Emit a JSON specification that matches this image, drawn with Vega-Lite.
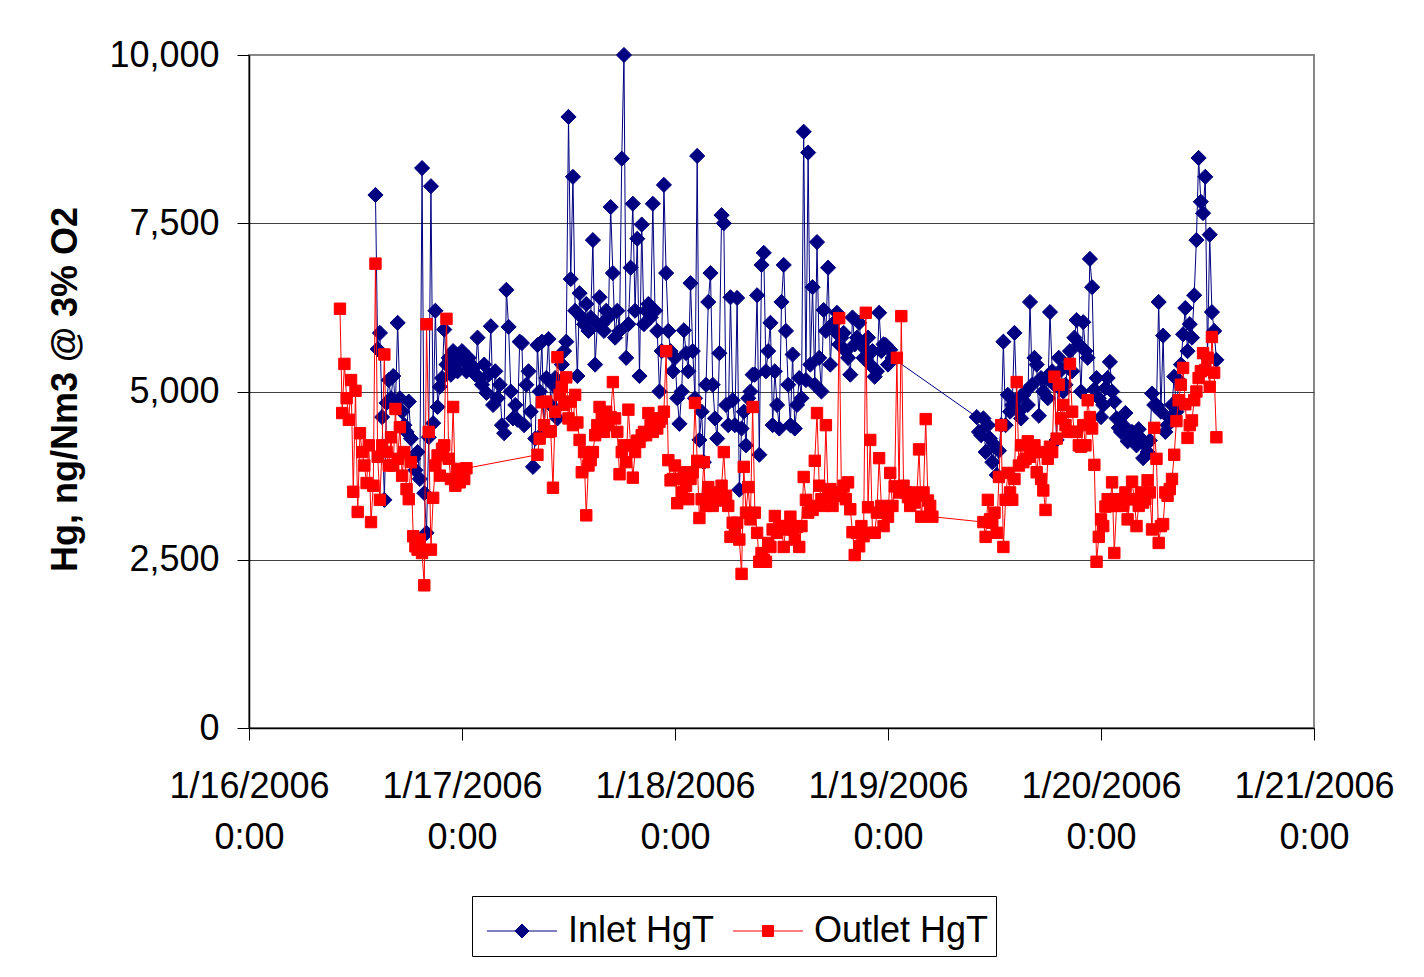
{
"$schema":"https://vega.github.io/schema/vega-lite/v6.json",
"width":1065,"height":673,
"autosize":{"type":"none"},
"padding":{"left":249,"top":55,"right":110,"bottom":249},
"background":"white",
"config":{"view":{"stroke":"#888888","strokeWidth":2,"fill":"white"},"font":"Liberation Sans"},
"data":{"values":[
{"t":"2006-01-16T10:15","Outlet HgT":6230},
{"t":"2006-01-16T10:30","Outlet HgT":4680},
{"t":"2006-01-16T10:45","Outlet HgT":5410},
{"t":"2006-01-16T11:00","Outlet HgT":4900},
{"t":"2006-01-16T11:15","Outlet HgT":4580},
{"t":"2006-01-16T11:30","Outlet HgT":5170},
{"t":"2006-01-16T11:45","Outlet HgT":3510},
{"t":"2006-01-16T12:00","Outlet HgT":5010},
{"t":"2006-01-16T12:15","Outlet HgT":3210},
{"t":"2006-01-16T12:30","Outlet HgT":4380},
{"t":"2006-01-16T12:45","Outlet HgT":4100},
{"t":"2006-01-16T13:00","Outlet HgT":3900},
{"t":"2006-01-16T13:15","Outlet HgT":3640},
{"t":"2006-01-16T13:30","Outlet HgT":4200},
{"t":"2006-01-16T13:45","Outlet HgT":3060},
{"t":"2006-01-16T14:00","Outlet HgT":3600},
{"t":"2006-01-16T14:15","Inlet HgT":7920,"Outlet HgT":6900},
{"t":"2006-01-16T14:30","Inlet HgT":5630,"Outlet HgT":4030},
{"t":"2006-01-16T14:45","Inlet HgT":5870,"Outlet HgT":3390},
{"t":"2006-01-16T15:00","Inlet HgT":4620,"Outlet HgT":4200},
{"t":"2006-01-16T15:15","Inlet HgT":3390,"Outlet HgT":5550},
{"t":"2006-01-16T15:30","Inlet HgT":4830,"Outlet HgT":4100},
{"t":"2006-01-16T15:45","Inlet HgT":5170,"Outlet HgT":3900},
{"t":"2006-01-16T16:00","Inlet HgT":4900,"Outlet HgT":4320},
{"t":"2006-01-16T16:15","Inlet HgT":5230,"Outlet HgT":3900},
{"t":"2006-01-16T16:30","Inlet HgT":4800,"Outlet HgT":4740},
{"t":"2006-01-16T16:45","Inlet HgT":6020,"Outlet HgT":4000},
{"t":"2006-01-16T17:00","Inlet HgT":4900,"Outlet HgT":4470},
{"t":"2006-01-16T17:15","Inlet HgT":4700,"Outlet HgT":3750},
{"t":"2006-01-16T17:30","Inlet HgT":4500,"Outlet HgT":4100},
{"t":"2006-01-16T17:45","Inlet HgT":4400,"Outlet HgT":3550},
{"t":"2006-01-16T18:00","Inlet HgT":4850,"Outlet HgT":3400},
{"t":"2006-01-16T18:15","Inlet HgT":4300,"Outlet HgT":3950},
{"t":"2006-01-16T18:30","Inlet HgT":4000,"Outlet HgT":2850},
{"t":"2006-01-16T18:45","Inlet HgT":3830,"Outlet HgT":2700},
{"t":"2006-01-16T19:00","Inlet HgT":4100,"Outlet HgT":2650},
{"t":"2006-01-16T19:15","Inlet HgT":3700,"Outlet HgT":2800},
{"t":"2006-01-16T19:30","Inlet HgT":8320,"Outlet HgT":2600},
{"t":"2006-01-16T19:45","Inlet HgT":3490,"Outlet HgT":2120},
{"t":"2006-01-16T20:00","Inlet HgT":2900,"Outlet HgT":6000},
{"t":"2006-01-16T20:15","Inlet HgT":4320,"Outlet HgT":4400},
{"t":"2006-01-16T20:30","Inlet HgT":8050,"Outlet HgT":2650},
{"t":"2006-01-16T20:45","Inlet HgT":4530,"Outlet HgT":3420},
{"t":"2006-01-16T21:00","Inlet HgT":6200,"Outlet HgT":3900},
{"t":"2006-01-16T21:15","Inlet HgT":4770,"Outlet HgT":4050},
{"t":"2006-01-16T21:30","Inlet HgT":5070,"Outlet HgT":3750},
{"t":"2006-01-16T21:45","Inlet HgT":5200,"Outlet HgT":4150},
{"t":"2006-01-16T22:00","Inlet HgT":5920,"Outlet HgT":4200},
{"t":"2006-01-16T22:15","Inlet HgT":5400,"Outlet HgT":6080},
{"t":"2006-01-16T22:30","Inlet HgT":5500,"Outlet HgT":4000},
{"t":"2006-01-16T22:45","Inlet HgT":5250,"Outlet HgT":3700},
{"t":"2006-01-16T23:00","Inlet HgT":5600,"Outlet HgT":4770},
{"t":"2006-01-16T23:15","Inlet HgT":5400,"Outlet HgT":3600},
{"t":"2006-01-16T23:30","Inlet HgT":5300,"Outlet HgT":3850},
{"t":"2006-01-16T23:45","Inlet HgT":5500,"Outlet HgT":3650},
{"t":"2006-01-17T00:00","Inlet HgT":5600,"Outlet HgT":3800},
{"t":"2006-01-17T00:15","Inlet HgT":5450,"Outlet HgT":3700},
{"t":"2006-01-17T00:30","Inlet HgT":5300,"Outlet HgT":3860},
{"t":"2006-01-17T00:45","Inlet HgT":5500},
{"t":"2006-01-17T01:00","Inlet HgT":5400},
{"t":"2006-01-17T01:15","Inlet HgT":5350},
{"t":"2006-01-17T01:30","Inlet HgT":5250},
{"t":"2006-01-17T01:45","Inlet HgT":5800},
{"t":"2006-01-17T02:00","Inlet HgT":5200},
{"t":"2006-01-17T02:15","Inlet HgT":5100},
{"t":"2006-01-17T02:30","Inlet HgT":5400},
{"t":"2006-01-17T02:45","Inlet HgT":4980},
{"t":"2006-01-17T03:00","Inlet HgT":5250},
{"t":"2006-01-17T03:15","Inlet HgT":5970},
{"t":"2006-01-17T03:30","Inlet HgT":4800},
{"t":"2006-01-17T03:45","Inlet HgT":5300},
{"t":"2006-01-17T04:00","Inlet HgT":4900},
{"t":"2006-01-17T04:15","Inlet HgT":5100},
{"t":"2006-01-17T04:30","Inlet HgT":4500},
{"t":"2006-01-17T04:45","Inlet HgT":4380},
{"t":"2006-01-17T05:00","Inlet HgT":6510},
{"t":"2006-01-17T05:15","Inlet HgT":5960},
{"t":"2006-01-17T05:30","Inlet HgT":5000},
{"t":"2006-01-17T05:45","Inlet HgT":4600},
{"t":"2006-01-17T06:00","Inlet HgT":4800},
{"t":"2006-01-17T06:15","Inlet HgT":4580},
{"t":"2006-01-17T06:30","Inlet HgT":5740},
{"t":"2006-01-17T06:45","Inlet HgT":5720},
{"t":"2006-01-17T07:00","Inlet HgT":4500},
{"t":"2006-01-17T07:15","Inlet HgT":5100},
{"t":"2006-01-17T07:30","Inlet HgT":5300},
{"t":"2006-01-17T07:45","Inlet HgT":4700},
{"t":"2006-01-17T08:00","Inlet HgT":3880},
{"t":"2006-01-17T08:15","Inlet HgT":4300},
{"t":"2006-01-17T08:30","Inlet HgT":5690,"Outlet HgT":4060},
{"t":"2006-01-17T08:45","Inlet HgT":5000,"Outlet HgT":4300},
{"t":"2006-01-17T09:00","Inlet HgT":5740,"Outlet HgT":4840},
{"t":"2006-01-17T09:15","Inlet HgT":4400,"Outlet HgT":4500},
{"t":"2006-01-17T09:30","Inlet HgT":5200,"Outlet HgT":4850},
{"t":"2006-01-17T09:45","Inlet HgT":5780,"Outlet HgT":4400},
{"t":"2006-01-17T10:00","Inlet HgT":4800,"Outlet HgT":4410},
{"t":"2006-01-17T10:15","Inlet HgT":5100,"Outlet HgT":3570},
{"t":"2006-01-17T10:30","Inlet HgT":5200,"Outlet HgT":4700},
{"t":"2006-01-17T10:45","Inlet HgT":4600,"Outlet HgT":5510},
{"t":"2006-01-17T11:00","Inlet HgT":5000,"Outlet HgT":4950},
{"t":"2006-01-17T11:15","Inlet HgT":5400,"Outlet HgT":5070},
{"t":"2006-01-17T11:30","Inlet HgT":5600,"Outlet HgT":4800},
{"t":"2006-01-17T11:45","Inlet HgT":5740,"Outlet HgT":5210},
{"t":"2006-01-17T12:00","Inlet HgT":9080,"Outlet HgT":4600},
{"t":"2006-01-17T12:15","Inlet HgT":6670,"Outlet HgT":4850},
{"t":"2006-01-17T12:30","Inlet HgT":8190,"Outlet HgT":4500},
{"t":"2006-01-17T12:45","Inlet HgT":6200,"Outlet HgT":4950},
{"t":"2006-01-17T13:00","Inlet HgT":5230,"Outlet HgT":4540},
{"t":"2006-01-17T13:15","Inlet HgT":6460,"Outlet HgT":4280},
{"t":"2006-01-17T13:30","Inlet HgT":6100,"Outlet HgT":3800},
{"t":"2006-01-17T13:45","Inlet HgT":6000,"Outlet HgT":4100},
{"t":"2006-01-17T14:00","Inlet HgT":6300,"Outlet HgT":3160},
{"t":"2006-01-17T14:15","Inlet HgT":5900,"Outlet HgT":3900},
{"t":"2006-01-17T14:30","Inlet HgT":6100,"Outlet HgT":3980},
{"t":"2006-01-17T14:45","Inlet HgT":7250,"Outlet HgT":4100},
{"t":"2006-01-17T15:00","Inlet HgT":5400,"Outlet HgT":4350},
{"t":"2006-01-17T15:15","Inlet HgT":6000,"Outlet HgT":4500},
{"t":"2006-01-17T15:30","Inlet HgT":6400,"Outlet HgT":4770},
{"t":"2006-01-17T15:45","Inlet HgT":6000,"Outlet HgT":4600},
{"t":"2006-01-17T16:00","Inlet HgT":5900,"Outlet HgT":4400},
{"t":"2006-01-17T16:15","Inlet HgT":6200,"Outlet HgT":4700},
{"t":"2006-01-17T16:30","Inlet HgT":6100,"Outlet HgT":4500},
{"t":"2006-01-17T16:45","Inlet HgT":7740,"Outlet HgT":4620},
{"t":"2006-01-17T17:00","Inlet HgT":6760,"Outlet HgT":5140},
{"t":"2006-01-17T17:15","Inlet HgT":5800,"Outlet HgT":4600},
{"t":"2006-01-17T17:30","Inlet HgT":6200,"Outlet HgT":4400},
{"t":"2006-01-17T17:45","Inlet HgT":5900,"Outlet HgT":3770},
{"t":"2006-01-17T18:00","Inlet HgT":8460,"Outlet HgT":4100},
{"t":"2006-01-17T18:15","Inlet HgT":10000,"Outlet HgT":4200},
{"t":"2006-01-17T18:30","Inlet HgT":5500,"Outlet HgT":3950},
{"t":"2006-01-17T18:45","Inlet HgT":6000,"Outlet HgT":4730},
{"t":"2006-01-17T19:00","Inlet HgT":6840,"Outlet HgT":4200},
{"t":"2006-01-17T19:15","Inlet HgT":7790,"Outlet HgT":3720},
{"t":"2006-01-17T19:30","Inlet HgT":6200,"Outlet HgT":4100},
{"t":"2006-01-17T19:45","Inlet HgT":7270,"Outlet HgT":4270},
{"t":"2006-01-17T20:00","Inlet HgT":5230,"Outlet HgT":4250},
{"t":"2006-01-17T20:15","Inlet HgT":7480,"Outlet HgT":4350},
{"t":"2006-01-17T20:30","Inlet HgT":6000,"Outlet HgT":4400},
{"t":"2006-01-17T20:45","Inlet HgT":6200,"Outlet HgT":4350},
{"t":"2006-01-17T21:00","Inlet HgT":6300,"Outlet HgT":4680},
{"t":"2006-01-17T21:15","Inlet HgT":6100,"Outlet HgT":4500},
{"t":"2006-01-17T21:30","Inlet HgT":7790,"Outlet HgT":4400},
{"t":"2006-01-17T21:45","Inlet HgT":6200,"Outlet HgT":4600},
{"t":"2006-01-17T22:00","Inlet HgT":5900,"Outlet HgT":4450},
{"t":"2006-01-17T22:15","Inlet HgT":5000,"Outlet HgT":4550},
{"t":"2006-01-17T22:30","Inlet HgT":5600,"Outlet HgT":4600},
{"t":"2006-01-17T22:45","Inlet HgT":8070,"Outlet HgT":4700},
{"t":"2006-01-17T23:00","Inlet HgT":6760,"Outlet HgT":5600},
{"t":"2006-01-17T23:15","Inlet HgT":5900,"Outlet HgT":3980},
{"t":"2006-01-17T23:30","Inlet HgT":5600,"Outlet HgT":3680},
{"t":"2006-01-17T23:45","Inlet HgT":5300,"Outlet HgT":3700},
{"t":"2006-01-18T00:00","Inlet HgT":5500,"Outlet HgT":3900},
{"t":"2006-01-18T00:15","Inlet HgT":4900,"Outlet HgT":3340},
{"t":"2006-01-18T00:30","Inlet HgT":4520,"Outlet HgT":3700},
{"t":"2006-01-18T00:45","Inlet HgT":5000,"Outlet HgT":3500},
{"t":"2006-01-18T01:00","Inlet HgT":5910,"Outlet HgT":3800},
{"t":"2006-01-18T01:15","Inlet HgT":5570,"Outlet HgT":3600},
{"t":"2006-01-18T01:30","Inlet HgT":5300,"Outlet HgT":3400},
{"t":"2006-01-18T01:45","Inlet HgT":6610,"Outlet HgT":3700},
{"t":"2006-01-18T02:00","Inlet HgT":5600,"Outlet HgT":3800},
{"t":"2006-01-18T02:15","Inlet HgT":4900,"Outlet HgT":4830},
{"t":"2006-01-18T02:30","Inlet HgT":8500,"Outlet HgT":3970},
{"t":"2006-01-18T02:45","Inlet HgT":4280,"Outlet HgT":3120},
{"t":"2006-01-18T03:00","Inlet HgT":4700,"Outlet HgT":3400},
{"t":"2006-01-18T03:15","Inlet HgT":3950,"Outlet HgT":3950},
{"t":"2006-01-18T03:30","Inlet HgT":5100,"Outlet HgT":3300},
{"t":"2006-01-18T03:45","Inlet HgT":6330,"Outlet HgT":3580},
{"t":"2006-01-18T04:00","Inlet HgT":6760,"Outlet HgT":3400},
{"t":"2006-01-18T04:15","Inlet HgT":5100,"Outlet HgT":3300},
{"t":"2006-01-18T04:30","Inlet HgT":4600,"Outlet HgT":3500},
{"t":"2006-01-18T04:45","Inlet HgT":4300,"Outlet HgT":3380},
{"t":"2006-01-18T05:00","Inlet HgT":5570,"Outlet HgT":3450},
{"t":"2006-01-18T05:15","Inlet HgT":7620,"Outlet HgT":3600},
{"t":"2006-01-18T05:30","Inlet HgT":7500,"Outlet HgT":4100},
{"t":"2006-01-18T05:45","Inlet HgT":4800,"Outlet HgT":3450},
{"t":"2006-01-18T06:00","Inlet HgT":4500,"Outlet HgT":3300},
{"t":"2006-01-18T06:15","Inlet HgT":6400,"Outlet HgT":2840},
{"t":"2006-01-18T06:30","Inlet HgT":4870,"Outlet HgT":3050},
{"t":"2006-01-18T06:45","Inlet HgT":4500,"Outlet HgT":2900},
{"t":"2006-01-18T07:00","Inlet HgT":6390,"Outlet HgT":3050},
{"t":"2006-01-18T07:15","Inlet HgT":3540,"Outlet HgT":2800},
{"t":"2006-01-18T07:30","Inlet HgT":4450,"Outlet HgT":2290},
{"t":"2006-01-18T07:45","Inlet HgT":4700,"Outlet HgT":3880},
{"t":"2006-01-18T08:00","Inlet HgT":4200,"Outlet HgT":3200},
{"t":"2006-01-18T08:15","Inlet HgT":4900,"Outlet HgT":3580},
{"t":"2006-01-18T08:30","Inlet HgT":5000,"Outlet HgT":3100},
{"t":"2006-01-18T08:45","Inlet HgT":5250,"Outlet HgT":4770},
{"t":"2006-01-18T09:00","Inlet HgT":5250,"Outlet HgT":3200},
{"t":"2006-01-18T09:15","Inlet HgT":6430,"Outlet HgT":2900},
{"t":"2006-01-18T09:30","Inlet HgT":4060,"Outlet HgT":2470},
{"t":"2006-01-18T09:45","Inlet HgT":6880,"Outlet HgT":2600},
{"t":"2006-01-18T10:00","Inlet HgT":7060,"Outlet HgT":2500},
{"t":"2006-01-18T10:15","Inlet HgT":5300,"Outlet HgT":2470},
{"t":"2006-01-18T10:30","Inlet HgT":5600,"Outlet HgT":2750},
{"t":"2006-01-18T10:45","Inlet HgT":6020,"Outlet HgT":2690},
{"t":"2006-01-18T11:00","Inlet HgT":4500,"Outlet HgT":2950},
{"t":"2006-01-18T11:15","Inlet HgT":5300,"Outlet HgT":3150},
{"t":"2006-01-18T11:30","Inlet HgT":4800,"Outlet HgT":2900},
{"t":"2006-01-18T11:45","Inlet HgT":4450,"Outlet HgT":3000},
{"t":"2006-01-18T12:00","Inlet HgT":6330,"Outlet HgT":2990},
{"t":"2006-01-18T12:15","Inlet HgT":6880,"Outlet HgT":2690},
{"t":"2006-01-18T12:30","Inlet HgT":5900,"Outlet HgT":3000},
{"t":"2006-01-18T12:45","Inlet HgT":5100,"Outlet HgT":2950},
{"t":"2006-01-18T13:00","Inlet HgT":4500,"Outlet HgT":3140},
{"t":"2006-01-18T13:15","Inlet HgT":5550,"Outlet HgT":2950},
{"t":"2006-01-18T13:30","Inlet HgT":4450,"Outlet HgT":2800},
{"t":"2006-01-18T13:45","Inlet HgT":4800,"Outlet HgT":2990},
{"t":"2006-01-18T14:00","Inlet HgT":5200,"Outlet HgT":2690},
{"t":"2006-01-18T14:15","Inlet HgT":4900,"Outlet HgT":3000},
{"t":"2006-01-18T14:30","Inlet HgT":8860,"Outlet HgT":3730},
{"t":"2006-01-18T14:45","Inlet HgT":5170,"Outlet HgT":3390},
{"t":"2006-01-18T15:00","Inlet HgT":8550,"Outlet HgT":3200},
{"t":"2006-01-18T15:15","Inlet HgT":5400,"Outlet HgT":3300},
{"t":"2006-01-18T15:30","Inlet HgT":6550,"Outlet HgT":3240},
{"t":"2006-01-18T15:45","Inlet HgT":5100,"Outlet HgT":3970},
{"t":"2006-01-18T16:00","Inlet HgT":7220,"Outlet HgT":4680},
{"t":"2006-01-18T16:15","Inlet HgT":5500,"Outlet HgT":3600},
{"t":"2006-01-18T16:30","Inlet HgT":5000,"Outlet HgT":3400},
{"t":"2006-01-18T16:45","Inlet HgT":6210,"Outlet HgT":3300},
{"t":"2006-01-18T17:00","Inlet HgT":5900,"Outlet HgT":4500},
{"t":"2006-01-18T17:15","Inlet HgT":6840,"Outlet HgT":3450},
{"t":"2006-01-18T17:30","Inlet HgT":5400,"Outlet HgT":3550},
{"t":"2006-01-18T17:45","Inlet HgT":6000,"Outlet HgT":3300},
{"t":"2006-01-18T18:00","Inlet HgT":5900,"Outlet HgT":3500},
{"t":"2006-01-18T18:15","Inlet HgT":6170,"Outlet HgT":3450},
{"t":"2006-01-18T18:30","Inlet HgT":5700,"Outlet HgT":6090},
{"t":"2006-01-18T18:45","Inlet HgT":5800,"Outlet HgT":3500},
{"t":"2006-01-18T19:00","Inlet HgT":5870,"Outlet HgT":3600},
{"t":"2006-01-18T19:15","Inlet HgT":5600,"Outlet HgT":3400},
{"t":"2006-01-18T19:30","Inlet HgT":5500,"Outlet HgT":3650},
{"t":"2006-01-18T19:45","Inlet HgT":5250,"Outlet HgT":3250},
{"t":"2006-01-18T20:00","Inlet HgT":6100,"Outlet HgT":2910},
{"t":"2006-01-18T20:15","Inlet HgT":5700,"Outlet HgT":2570},
{"t":"2006-01-18T20:30","Inlet HgT":5800,"Outlet HgT":2900},
{"t":"2006-01-18T20:45","Inlet HgT":6020,"Outlet HgT":2700},
{"t":"2006-01-18T21:00","Inlet HgT":5700,"Outlet HgT":3000},
{"t":"2006-01-18T21:15","Inlet HgT":5500,"Outlet HgT":2850},
{"t":"2006-01-18T21:30","Inlet HgT":5620,"Outlet HgT":6170},
{"t":"2006-01-18T21:45","Inlet HgT":5800,"Outlet HgT":3280},
{"t":"2006-01-18T22:00","Inlet HgT":5400,"Outlet HgT":4280},
{"t":"2006-01-18T22:15","Inlet HgT":5600,"Outlet HgT":2900},
{"t":"2006-01-18T22:30","Inlet HgT":5220,"Outlet HgT":2900},
{"t":"2006-01-18T22:45","Inlet HgT":5300,"Outlet HgT":3200},
{"t":"2006-01-18T23:00","Inlet HgT":6170,"Outlet HgT":4010},
{"t":"2006-01-18T23:15","Inlet HgT":5600,"Outlet HgT":3300},
{"t":"2006-01-18T23:30","Inlet HgT":5700,"Outlet HgT":3000},
{"t":"2006-01-18T23:45","Inlet HgT":5690,"Outlet HgT":3200},
{"t":"2006-01-19T00:00","Inlet HgT":5400,"Outlet HgT":3140},
{"t":"2006-01-19T00:15","Inlet HgT":5620,"Outlet HgT":3790},
{"t":"2006-01-19T00:30","Inlet HgT":5500,"Outlet HgT":3300},
{"t":"2006-01-19T00:45","Outlet HgT":3590},
{"t":"2006-01-19T01:00","Outlet HgT":5500},
{"t":"2006-01-19T01:15","Outlet HgT":3500},
{"t":"2006-01-19T01:30","Outlet HgT":6120},
{"t":"2006-01-19T01:45","Outlet HgT":3600},
{"t":"2006-01-19T02:00","Outlet HgT":3500},
{"t":"2006-01-19T02:15","Outlet HgT":3430},
{"t":"2006-01-19T02:30","Outlet HgT":3300},
{"t":"2006-01-19T02:45","Outlet HgT":3500},
{"t":"2006-01-19T03:00","Outlet HgT":3350},
{"t":"2006-01-19T03:15","Outlet HgT":3450},
{"t":"2006-01-19T03:30","Outlet HgT":4140},
{"t":"2006-01-19T03:45","Outlet HgT":3140},
{"t":"2006-01-19T04:00","Outlet HgT":3500},
{"t":"2006-01-19T04:15","Outlet HgT":4590},
{"t":"2006-01-19T04:30","Outlet HgT":3380},
{"t":"2006-01-19T04:45","Outlet HgT":3300},
{"t":"2006-01-19T05:00","Outlet HgT":3140},
{"t":"2006-01-19T10:00","Inlet HgT":4620},
{"t":"2006-01-19T10:15","Inlet HgT":4400},
{"t":"2006-01-19T10:30","Inlet HgT":4350},
{"t":"2006-01-19T10:45","Inlet HgT":4600,"Outlet HgT":3060},
{"t":"2006-01-19T11:00","Inlet HgT":4100,"Outlet HgT":2840},
{"t":"2006-01-19T11:15","Inlet HgT":4500,"Outlet HgT":3390},
{"t":"2006-01-19T11:30","Inlet HgT":4300,"Outlet HgT":3100},
{"t":"2006-01-19T11:45","Inlet HgT":3950,"Outlet HgT":3050},
{"t":"2006-01-19T12:00","Inlet HgT":4200,"Outlet HgT":3200},
{"t":"2006-01-19T12:15","Inlet HgT":3760,"Outlet HgT":2900},
{"t":"2006-01-19T12:30","Inlet HgT":4120,"Outlet HgT":3730},
{"t":"2006-01-19T12:45","Inlet HgT":4500,"Outlet HgT":4500},
{"t":"2006-01-19T13:00","Inlet HgT":5740,"Outlet HgT":2690},
{"t":"2006-01-19T13:15","Inlet HgT":4500,"Outlet HgT":3390},
{"t":"2006-01-19T13:30","Inlet HgT":4950,"Outlet HgT":3790},
{"t":"2006-01-19T13:45","Inlet HgT":4700,"Outlet HgT":3500},
{"t":"2006-01-19T14:00","Inlet HgT":4800,"Outlet HgT":3390},
{"t":"2006-01-19T14:15","Inlet HgT":5870,"Outlet HgT":3700},
{"t":"2006-01-19T14:30","Inlet HgT":4880,"Outlet HgT":5140},
{"t":"2006-01-19T14:45","Inlet HgT":4700,"Outlet HgT":3900},
{"t":"2006-01-19T15:00","Inlet HgT":4600,"Outlet HgT":4200},
{"t":"2006-01-19T15:15","Inlet HgT":4950,"Outlet HgT":3950},
{"t":"2006-01-19T15:30","Inlet HgT":5000,"Outlet HgT":4000},
{"t":"2006-01-19T15:45","Inlet HgT":4800,"Outlet HgT":4260},
{"t":"2006-01-19T16:00","Inlet HgT":6330,"Outlet HgT":4030},
{"t":"2006-01-19T16:15","Inlet HgT":5100,"Outlet HgT":4100},
{"t":"2006-01-19T16:30","Inlet HgT":5500,"Outlet HgT":4200},
{"t":"2006-01-19T16:45","Inlet HgT":5400,"Outlet HgT":3800},
{"t":"2006-01-19T17:00","Inlet HgT":4640,"Outlet HgT":4100},
{"t":"2006-01-19T17:15","Inlet HgT":5200,"Outlet HgT":3700},
{"t":"2006-01-19T17:30","Inlet HgT":5000,"Outlet HgT":3530},
{"t":"2006-01-19T17:45","Inlet HgT":5200,"Outlet HgT":3240},
{"t":"2006-01-19T18:00","Inlet HgT":4900,"Outlet HgT":4000},
{"t":"2006-01-19T18:15","Inlet HgT":6180,"Outlet HgT":4180},
{"t":"2006-01-19T18:30","Inlet HgT":5300,"Outlet HgT":4100},
{"t":"2006-01-19T18:45","Inlet HgT":5100,"Outlet HgT":5220},
{"t":"2006-01-19T19:00","Inlet HgT":4280,"Outlet HgT":4300},
{"t":"2006-01-19T19:15","Inlet HgT":5500,"Outlet HgT":5100},
{"t":"2006-01-19T19:30","Inlet HgT":5320,"Outlet HgT":4600},
{"t":"2006-01-19T19:45","Inlet HgT":5000,"Outlet HgT":4800},
{"t":"2006-01-19T20:00","Inlet HgT":5100,"Outlet HgT":4500},
{"t":"2006-01-19T20:15","Inlet HgT":5390,"Outlet HgT":4400},
{"t":"2006-01-19T20:30","Inlet HgT":5600,"Outlet HgT":5410},
{"t":"2006-01-19T20:45","Inlet HgT":5300,"Outlet HgT":4700},
{"t":"2006-01-19T21:00","Inlet HgT":5800,"Outlet HgT":4400},
{"t":"2006-01-19T21:15","Inlet HgT":6060,"Outlet HgT":4400},
{"t":"2006-01-19T21:30","Inlet HgT":5700,"Outlet HgT":4200},
{"t":"2006-01-19T21:45","Inlet HgT":5000,"Outlet HgT":4180},
{"t":"2006-01-19T22:00","Inlet HgT":6030,"Outlet HgT":4500},
{"t":"2006-01-19T22:15","Inlet HgT":5600,"Outlet HgT":4200},
{"t":"2006-01-19T22:30","Inlet HgT":5500,"Outlet HgT":4870},
{"t":"2006-01-19T22:45","Inlet HgT":6970,"Outlet HgT":4620},
{"t":"2006-01-19T23:00","Inlet HgT":6550,"Outlet HgT":4450},
{"t":"2006-01-19T23:15","Inlet HgT":5030,"Outlet HgT":3910},
{"t":"2006-01-19T23:30","Inlet HgT":5200,"Outlet HgT":2470},
{"t":"2006-01-19T23:45","Inlet HgT":4900,"Outlet HgT":2840},
{"t":"2006-01-20T00:00","Inlet HgT":4620,"Outlet HgT":3100},
{"t":"2006-01-20T00:15","Inlet HgT":4800,"Outlet HgT":3000},
{"t":"2006-01-20T00:30","Inlet HgT":5050,"Outlet HgT":3290},
{"t":"2006-01-20T00:45","Inlet HgT":5200,"Outlet HgT":3400},
{"t":"2006-01-20T01:00","Inlet HgT":5440,"Outlet HgT":3300},
{"t":"2006-01-20T01:15","Inlet HgT":5000,"Outlet HgT":3650},
{"t":"2006-01-20T01:30","Inlet HgT":4850,"Outlet HgT":2600},
{"t":"2006-01-20T01:45","Inlet HgT":4600,"Outlet HgT":3300},
{"t":"2006-01-20T02:00","Inlet HgT":4460,"Outlet HgT":3400},
{"t":"2006-01-20T02:15","Inlet HgT":4400,"Outlet HgT":3390},
{"t":"2006-01-20T02:30","Inlet HgT":4500,"Outlet HgT":3300},
{"t":"2006-01-20T02:45","Inlet HgT":4680,"Outlet HgT":3500},
{"t":"2006-01-20T03:00","Inlet HgT":4260,"Outlet HgT":3100},
{"t":"2006-01-20T03:15","Inlet HgT":4300,"Outlet HgT":3400},
{"t":"2006-01-20T03:30","Inlet HgT":4400,"Outlet HgT":3660},
{"t":"2006-01-20T03:45","Inlet HgT":4300,"Outlet HgT":3400},
{"t":"2006-01-20T04:00","Inlet HgT":4200,"Outlet HgT":3000},
{"t":"2006-01-20T04:15","Inlet HgT":4440,"Outlet HgT":3300},
{"t":"2006-01-20T04:30","Inlet HgT":4300,"Outlet HgT":3500},
{"t":"2006-01-20T04:45","Inlet HgT":4010,"Outlet HgT":3350},
{"t":"2006-01-20T05:00","Inlet HgT":4200,"Outlet HgT":3400},
{"t":"2006-01-20T05:15","Inlet HgT":4100,"Outlet HgT":3680},
{"t":"2006-01-20T05:30","Inlet HgT":4270,"Outlet HgT":3500},
{"t":"2006-01-20T05:45","Inlet HgT":4970,"Outlet HgT":2950},
{"t":"2006-01-20T06:00","Inlet HgT":4800,"Outlet HgT":4460},
{"t":"2006-01-20T06:15","Inlet HgT":4800,"Outlet HgT":4000},
{"t":"2006-01-20T06:30","Inlet HgT":6330,"Outlet HgT":2750},
{"t":"2006-01-20T06:45","Inlet HgT":4700,"Outlet HgT":3000},
{"t":"2006-01-20T07:00","Inlet HgT":5830,"Outlet HgT":3030},
{"t":"2006-01-20T07:15","Inlet HgT":4400,"Outlet HgT":3500},
{"t":"2006-01-20T07:30","Inlet HgT":4500,"Outlet HgT":3450},
{"t":"2006-01-20T07:45","Inlet HgT":4600,"Outlet HgT":3550},
{"t":"2006-01-20T08:00","Inlet HgT":4800,"Outlet HgT":3700},
{"t":"2006-01-20T08:15","Inlet HgT":5220,"Outlet HgT":4060},
{"t":"2006-01-20T08:30","Inlet HgT":4700,"Outlet HgT":4560},
{"t":"2006-01-20T08:45","Inlet HgT":5170,"Outlet HgT":4870},
{"t":"2006-01-20T09:00","Inlet HgT":5400,"Outlet HgT":5100},
{"t":"2006-01-20T09:15","Inlet HgT":5850,"Outlet HgT":5350},
{"t":"2006-01-20T09:30","Inlet HgT":6240,"Outlet HgT":4810},
{"t":"2006-01-20T09:45","Inlet HgT":5600,"Outlet HgT":4310},
{"t":"2006-01-20T10:00","Inlet HgT":6000,"Outlet HgT":4500},
{"t":"2006-01-20T10:15","Inlet HgT":5800,"Outlet HgT":4570},
{"t":"2006-01-20T10:30","Inlet HgT":6430,"Outlet HgT":4870},
{"t":"2006-01-20T10:45","Inlet HgT":7250,"Outlet HgT":5000},
{"t":"2006-01-20T11:00","Inlet HgT":8470,"Outlet HgT":5200},
{"t":"2006-01-20T11:15","Inlet HgT":7820,"Outlet HgT":5300},
{"t":"2006-01-20T11:30","Inlet HgT":7650,"Outlet HgT":5570},
{"t":"2006-01-20T11:45","Inlet HgT":8190,"Outlet HgT":5320},
{"t":"2006-01-20T12:00","Inlet HgT":5500,"Outlet HgT":5500},
{"t":"2006-01-20T12:15","Inlet HgT":7330,"Outlet HgT":5070},
{"t":"2006-01-20T12:30","Inlet HgT":6180,"Outlet HgT":5810},
{"t":"2006-01-20T12:45","Inlet HgT":5900,"Outlet HgT":5280},
{"t":"2006-01-20T13:00","Inlet HgT":5470,"Outlet HgT":4320}
]},
"transform":[
{"fold":["Inlet HgT","Outlet HgT"],"as":["series","value"]},
{"filter":"isValid(datum.value)"}
],
"encoding":{
"x":{"field":"t","type":"temporal",
 "scale":{"domain":[{"year":2006,"month":1,"date":16},{"year":2006,"month":1,"date":21}],"nice":false},
 "axis":{"title":null,"values":[{"year":2006,"month":1,"date":16},{"year":2006,"month":1,"date":17},{"year":2006,"month":1,"date":18},{"year":2006,"month":1,"date":19},{"year":2006,"month":1,"date":20},{"year":2006,"month":1,"date":21}],
  "labelExpr":"[timeFormat(datum.value, '%-m/%-d/%Y'), timeFormat(datum.value, '%-H:%M')]",
  "labelFontSize":36,"labelFont":"Liberation Sans","labelColor":"#000","labelLineHeight":51,"labelPadding":29,
  "labelOverlap":false,"labelFlush":false,"tickSize":12,"tickColor":"#000","domainColor":"#000","domainWidth":1.5,"grid":false}},
"y":{"field":"value","type":"quantitative",
 "scale":{"domain":[0,10000],"nice":false},
 "axis":{"title":"Hg, ng/Nm3 @ 3% O2","titleFontSize":36,"titleFont":"Liberation Sans","titleFontWeight":"bold","titleColor":"#000",
  "titleX":-184,"titleY":334,"titleAngle":-90,"titleAlign":"center","titleBaseline":"middle",
  "values":[0,2500,5000,7500,10000],"format":",.0f","labelFontSize":36,"labelFont":"Liberation Sans","labelColor":"#000","labelPadding":18,
  "tickSize":12,"tickColor":"#000","domainColor":"#000","domainWidth":1.5,
  "grid":true,"gridColor":{"condition":{"test":"datum.value === 0 || datum.value === 10000","value":"transparent"},"value":"#404040"},"gridWidth":1}}
},
"layer":[
{"transform":[{"filter":"datum.series === 'Inlet HgT'"}],
 "mark":{"type":"line","color":"#000080","strokeWidth":1}},
{"transform":[{"filter":"datum.series === 'Inlet HgT'"}],
 "mark":{"type":"point","shape":"diamond","filled":true,"opacity":1,"size":230,"color":"#000080","stroke":"#000080","strokeWidth":1}},
{"transform":[{"filter":"datum.series === 'Outlet HgT'"}],
 "mark":{"type":"line","color":"#FF0000","strokeWidth":1}},
{"transform":[{"filter":"datum.series === 'Outlet HgT'"}],
 "mark":{"type":"point","shape":"square","filled":true,"opacity":1,"size":130,"color":"#FF0000","stroke":"#FF0000","strokeWidth":1}},
{"transform":[{"filter":"false"}],
 "mark":{"type":"point","filled":true,"opacity":1,"strokeWidth":1},
 "encoding":{
  "fill":{"field":"series","type":"nominal","scale":{"domain":["Inlet HgT","Outlet HgT"],"range":["#000080","#FF0000"]},
   "legend":{"title":null,"orient":"none","legendX":223,"legendY":841,"direction":"horizontal","strokeColor":"#000","fillColor":"white","padding":7,"symbolSize":3025,"symbolStrokeWidth":1,"labelFontSize":36,"labelFont":"Liberation Sans","labelColor":"#000","labelOffset":33,"columnPadding":10,"labelLimit":400}},
  "stroke":{"field":"series","type":"nominal","scale":{"domain":["Inlet HgT","Outlet HgT"],"range":["#000080","#FF0000"]},
   "legend":{"title":null,"orient":"none","legendX":223,"legendY":841,"direction":"horizontal","strokeColor":"#000","fillColor":"white","padding":7,"symbolSize":3025,"symbolStrokeWidth":1,"labelFontSize":36,"labelFont":"Liberation Sans","labelColor":"#000","labelOffset":33,"columnPadding":10,"labelLimit":400}},
  "shape":{"field":"series","type":"nominal","scale":{"domain":["Inlet HgT","Outlet HgT"],"range":["M-0.73,0H1.82M0.545,-0.255L0.8,0L0.545,0.255L0.29,0Z","M-0.73,0H1.82M0.345,-0.2H0.745V0.2H0.345Z"]},
   "legend":{"title":null,"orient":"none","legendX":223,"legendY":841,"direction":"horizontal","strokeColor":"#000","fillColor":"white","padding":7,"symbolSize":3025,"symbolStrokeWidth":1,"labelFontSize":36,"labelFont":"Liberation Sans","labelColor":"#000","labelOffset":33,"columnPadding":10,"labelLimit":400}}
 }}
]
}
